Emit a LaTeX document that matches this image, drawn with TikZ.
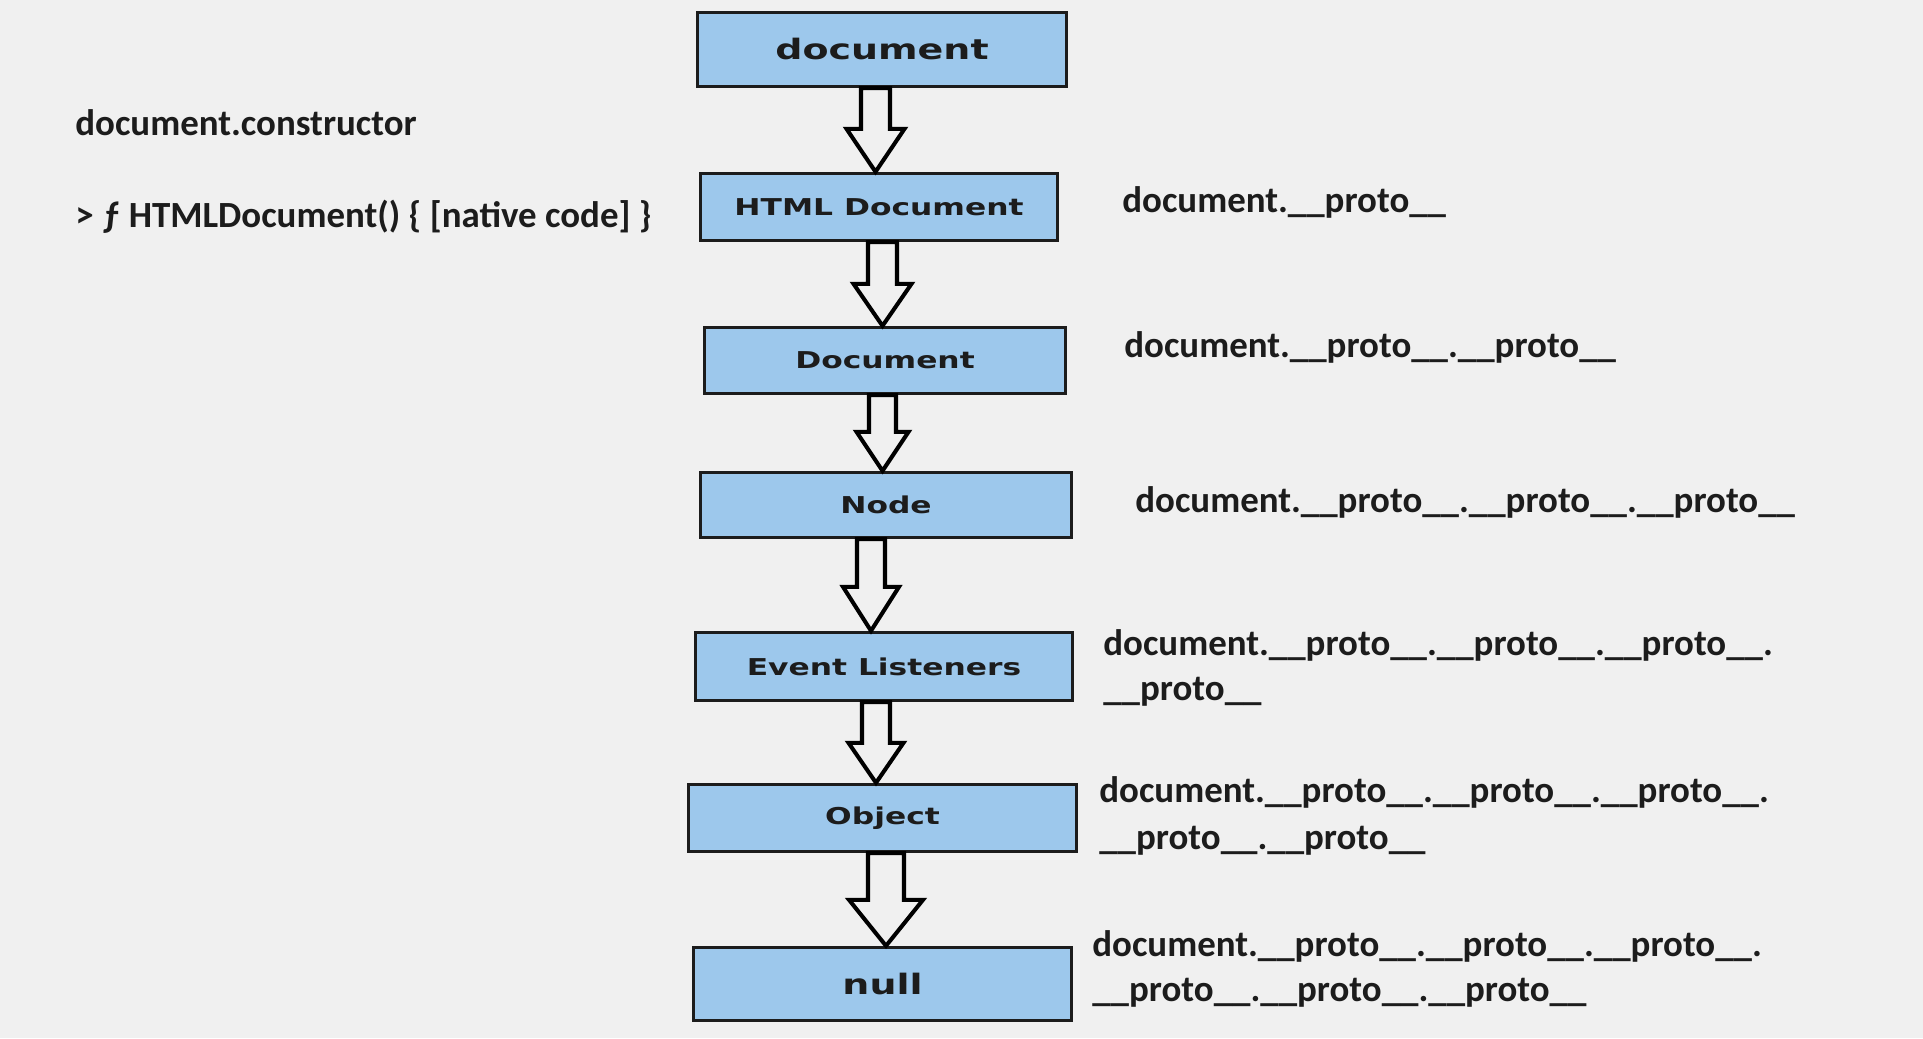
\documentclass[tikz,border=0pt]{standalone}
\usepackage{fontspec}
\setmainfont{Carlito}
\newfontfamily\boxfont{DejaVu Sans}[FakeStretch=1.35]
\usetikzlibrary{positioning}
\usetikzlibrary{calc}

\definecolor{bgcol}{HTML}{F0F0F0}
\definecolor{boxblue}{HTML}{9DC8EC}
\definecolor{inkcol}{HTML}{1C1C1C}

\newcommand{\proto}{\_\_proto\_\_}

\tikzset{
  protobox/.style={draw=inkcol,line width=1.9pt,fill=boxblue,text=inkcol,inner sep=0pt,
    font=\boxfont\bfseries\fontsize{13.2}{15}\selectfont},
  bigbox/.style={protobox,font=\boxfont\bfseries\fontsize{16}{18}\selectfont},
  hollow/.style={draw=black,line width=2.3pt,fill=bgcol,line join=miter},
  note/.style={anchor=base west,inner sep=0pt,text=inkcol,font=\bfseries\fontsize{21}{24}\selectfont}
}

% from, to, x centre, shaft half width, head half width, head length
\newcommand{\chainarrow}[6]{
  \coordinate (h) at ($(#2.north)+(0,#6)$);
  \draw[hollow] ({#3-#4},0 |- #1.south) -- ({#3-#4},0 |- h) -- ({#3-#5},0 |- h)
    -- (#3,0 |- #2.north) -- ({#3+#5},0 |- h) -- ({#3+#4},0 |- h)
    -- ({#3+#4},0 |- #1.south) -- cycle;
}

\begin{document}
\begin{tikzpicture}
\fill[bgcol] (0,0) rectangle (38.46,-20.76);

\node[bigbox,minimum width=7.38cm,minimum height=1.48cm] (doc) at (17.64,-0.99) {document};
\node[protobox,minimum width=7.14cm,minimum height=1.34cm] (htmldoc) at (17.58,-4.14) {HTML Document};
\node[protobox,minimum width=7.22cm,minimum height=1.32cm] (docproto) at (17.70,-7.21) {Document};
\node[protobox,minimum width=7.42cm,minimum height=1.30cm] (nodeproto) at (17.72,-10.10) {Node};
\node[protobox,minimum width=7.54cm,minimum height=1.36cm] (evt) at (17.68,-13.33) {Event Listeners};
\node[protobox,minimum width=7.76cm,minimum height=1.34cm] (objproto) at (17.65,-16.36) {Object};
\node[bigbox,minimum width=7.56cm,minimum height=1.46cm] (nul) at (17.65,-19.68) {null};

\chainarrow{doc}{htmldoc}{17.51}{0.29}{0.58}{0.86}
\chainarrow{htmldoc}{docproto}{17.65}{0.29}{0.58}{0.84}
\chainarrow{docproto}{nodeproto}{17.65}{0.27}{0.52}{0.78}
\chainarrow{nodeproto}{evt}{17.42}{0.28}{0.56}{0.88}
\chainarrow{evt}{objproto}{17.52}{0.28}{0.55}{0.80}
\chainarrow{objproto}{nul}{17.72}{0.36}{0.74}{0.92}

\node[note] (ctor) at (1.50,-2.71) {document.constructor};
\node[note] (ctorval) at (1.50,-4.55) {> ƒ HTMLDocument() \{ [native code] \}};

\node[note] (p1) at (22.44,-4.24) {document.\proto};
\node[note] (p2) at (22.48,-7.14) {document.\proto.\proto};
\node[note] (p3) at (22.70,-10.25) {document.\proto.\proto.\proto};
\node[note] (p4) at (22.06,-13.10) {document.\proto.\proto.\proto.};
\node[note] (p4b) at (22.06,-14.00) {\proto};
\node[note] (p5) at (21.98,-16.04) {document.\proto.\proto.\proto.};
\node[note] (p5b) at (21.98,-16.98) {\proto.\proto};
\node[note] (p6) at (21.84,-19.12) {document.\proto.\proto.\proto.};
\node[note] (p6b) at (21.84,-20.02) {\proto.\proto.\proto};

\end{tikzpicture}
\end{document}
